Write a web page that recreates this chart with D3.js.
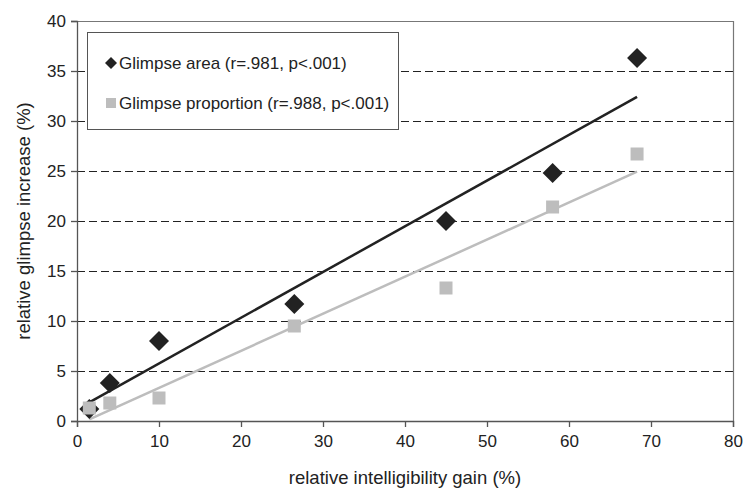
<!DOCTYPE html>
<html>
<head>
<meta charset="utf-8">
<script src="https://cdn.jsdelivr.net/npm/d3@7"></script>
<style>
  body { margin: 0; background: #fff; }
  svg text { font-family: "Liberation Sans", Arial, sans-serif; fill: #222; }
</style>
</head>
<body>
<div id="chart"></div>
<script>
// data
var gain = [1.5, 4, 10, 26.5, 45, 58, 68.3];
var glimpseArea = [1.2, 3.8, 8, 11.7, 20, 24.8, 36.3];
var glimpseProportion = [1.3, 1.8, 2.3, 9.5, 13.3, 21.4, 26.7];
var xTicks = [0, 10, 20, 30, 40, 50, 60, 70, 80];
var yTicks = [0, 5, 10, 15, 20, 25, 30, 35, 40];
var legendLabels = ["Glimpse area (r=.981, p<.001)", "Glimpse proportion (r=.988, p<.001)"];

var w = 743, h = 488;
var margin = {left: 77, right: 10, top: 21, bottom: 67};

var svg = d3.select("#chart").append("svg")
    .attr("width", w).attr("height", h);

var x = d3.scaleLinear().domain([0, 80]).range([margin.left, w - margin.right]);
var y = d3.scaleLinear().domain([0, 40]).range([h - margin.bottom, margin.top]);

//Dashed gridlines
svg.selectAll("line.grid")
  .data(yTicks.filter(function(d){ return d > 0 && d < 40; }))
  .enter().append("line")
  .attr("class", "grid")
  .attr("x1", x(0)).attr("x2", x(80))
  .attr("y1", function(d){ return y(d) + 0.5; })
  .attr("y2", function(d){ return y(d) + 0.5; })
  .attr("stroke", "#222").attr("stroke-width", 1)
  .attr("stroke-dasharray", "8,4");

//Top and right border
svg.append("path")
  .attr("d", "M" + x(0) + "," + (y(40) + 0.5) + "H" + (x(80) + 0.5) + "V" + y(0))
  .attr("fill", "none").attr("stroke", "#777").attr("stroke-width", 1.2);

//Axes
var xAxis = svg.append("g")
  .attr("transform", "translate(0," + y(0) + ")")
  .call(d3.axisBottom(x).tickValues(xTicks).tickSize(6).tickPadding(8));
var yAxis = svg.append("g")
  .attr("transform", "translate(" + x(0) + ",0)")
  .call(d3.axisLeft(y).tickValues(yTicks).tickSize(6).tickPadding(5));
[xAxis, yAxis].forEach(function(g){
  g.selectAll("path, line").attr("stroke", "#555").attr("stroke-width", 1.3);
  g.selectAll("text").attr("font-size", 17).style("fill", "#222");
});

//Axis titles
svg.append("text")
  .attr("x", (x(0) + x(80)) / 2).attr("y", 484)
  .attr("text-anchor", "middle").attr("font-size", 18.5)
  .text("relative intelligibility gain (%)");
svg.append("text")
  .attr("transform", "translate(30," + (y(20)) + ") rotate(-90)")
  .attr("text-anchor", "middle").attr("font-size", 18.5)
  .text("relative glimpse increase (%)");

//Least squares fit drawn between the min and max x
function fit(xs, ys){
  var mx = d3.mean(xs), my = d3.mean(ys);
  var sxy = d3.sum(xs, function(d, i){ return (d - mx) * (ys[i] - my); });
  var sxx = d3.sum(xs, function(d){ return (d - mx) * (d - mx); });
  var b = sxy / sxx, a = my - b * mx;
  var x0 = d3.min(xs), x1 = d3.max(xs);
  return [[x0, a + b * x0], [x1, a + b * x1]];
}

var series = [
  {values: glimpseArea, color: "#222", shape: "diamond"},
  {values: glimpseProportion, color: "#bdbdbd", shape: "square"}
];

var line = d3.line().x(function(d){ return x(d[0]); }).y(function(d){ return y(d[1]); });

series.forEach(function(s){
  svg.append("path")
    .datum(fit(gain, s.values))
    .attr("d", line)
    .attr("stroke", s.color).attr("stroke-width", 2.5).attr("fill", "none");
});

//Markers (proportion on top of area, as in the figure)
series.forEach(function(s){
  var g = svg.append("g");
  g.selectAll("path")
    .data(s.values)
    .enter().append("path")
    .attr("transform", function(d, i){ return "translate(" + x(gain[i]) + "," + y(d) + ")"; })
    .attr("d", s.shape == "diamond" ? "M0,-10L10,0L0,10L-10,0Z" : "M-6.5,-6.5H6.5V6.5H-6.5Z")
    .attr("fill", s.color);
});

//Legend
var legend = svg.append("g");
legend.append("rect")
  .attr("x", 87.5).attr("y", 32.5).attr("width", 311).attr("height", 97)
  .attr("fill", "#fff").attr("stroke", "#555").attr("stroke-width", 1);
legendLabels.forEach(function(label, i){
  var ly = 63 + i * 40;
  legend.append("path")
    .attr("transform", "translate(111," + ly + ")")
    .attr("d", i == 0 ? "M0,-6L6,0L0,6L-6,0Z" : "M-5,-5H5V5H-5Z")
    .attr("fill", series[i].color);
  legend.append("text")
    .attr("x", 119).attr("y", ly + 6)
    .attr("font-size", 17)
    .text(label);
});
</script>
</body>
</html>
